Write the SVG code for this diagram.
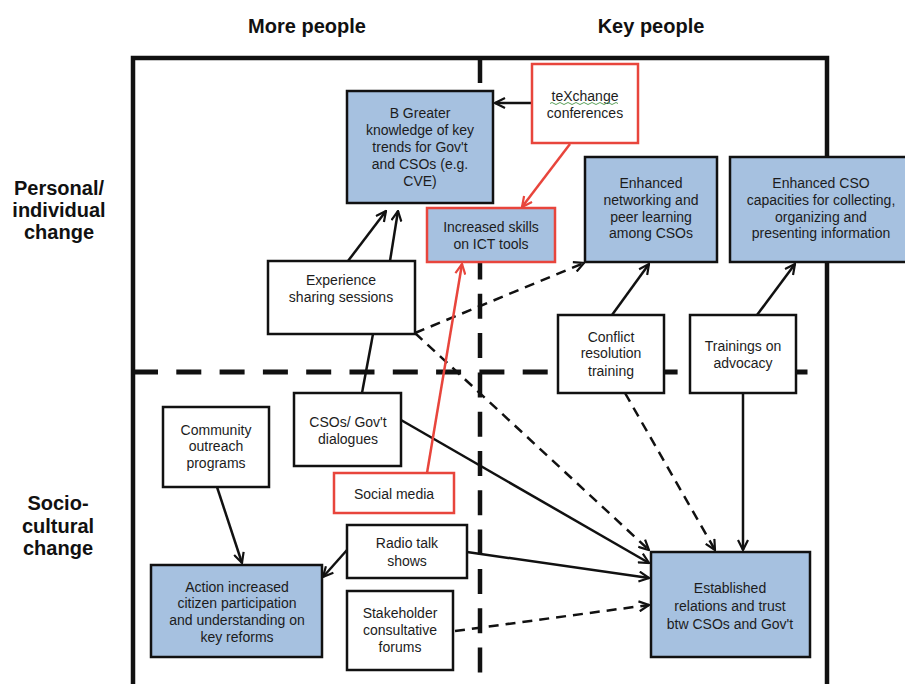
<svg xmlns="http://www.w3.org/2000/svg" width="905" height="684" viewBox="0 0 905 684">
<defs>
<style>
.t{font-family:"Liberation Sans",Arial,Helvetica,sans-serif;font-size:14px;fill:#1c1c1c;text-anchor:middle}
.h{font-family:"Liberation Sans",Arial,Helvetica,sans-serif;font-size:20px;font-weight:bold;fill:#111;text-anchor:middle}
.blue{fill:#a6c1e0;stroke:#111;stroke-width:2.5}
.white{fill:#fff;stroke:#111;stroke-width:2.5}
.bred{fill:#a6c1e0;stroke:#e8453c;stroke-width:2.5}
.wred{fill:#fff;stroke:#e8453c;stroke-width:2.5}
.c{fill:none;stroke:#111;stroke-width:2.5;marker-end:url(#ah)}
.cd{fill:none;stroke:#111;stroke-width:2.5;stroke-dasharray:10 7;marker-end:url(#ah)}
.cr{fill:none;stroke:#e8453c;stroke-width:2.5;marker-end:url(#ahr)}
</style>
<marker id="ah" viewBox="0 0 12 12" refX="11" refY="6" markerWidth="12" markerHeight="12" markerUnits="userSpaceOnUse" orient="auto">
<path d="M1,1 L11,6 L1,11" fill="none" stroke="#111" stroke-width="2.2"/>
</marker>
<marker id="ahr" viewBox="0 0 12 12" refX="11" refY="6" markerWidth="12" markerHeight="12" markerUnits="userSpaceOnUse" orient="auto">
<path d="M1,1 L11,6 L1,11" fill="none" stroke="#e8453c" stroke-width="2.2"/>
</marker>
</defs>
<rect width="905" height="684" fill="#fff"/>

<g id="labels">
<text class="h" x="307" y="33">More people</text>
<text class="h" x="651" y="33">Key people</text>
<text class="h" x="59" y="195">Personal/</text>
<text class="h" x="59" y="217">individual</text>
<text class="h" x="59" y="239">change</text>
<text class="h" x="58" y="510">Socio-</text>
<text class="h" x="58" y="533">cultural</text>
<text class="h" x="58" y="555">change</text>
</g>

<g id="frame">
<path d="M133,690 L133,58 L827,58 L827,690" fill="none" stroke="#111" stroke-width="4.5"/>
<line x1="480" y1="58" x2="480" y2="690" stroke="#111" stroke-width="4.5" stroke-dasharray="25 14.3"/>
<line x1="133" y1="372" x2="810" y2="372" stroke="#111" stroke-width="5" stroke-dasharray="25 18.3"/>
</g>

<g id="connectors">
<line class="c" x1="532" y1="103" x2="495" y2="103"/>
<line class="cr" x1="570" y1="144" x2="522" y2="207"/>
<line class="c" x1="348" y1="261" x2="386" y2="211"/>
<line class="c" x1="390" y1="261" x2="398" y2="211"/>
<line class="cd" x1="415" y1="333" x2="584" y2="263"/>
<line class="cd" x1="415" y1="333" x2="649" y2="550"/>
<line x1="373" y1="334" x2="362" y2="393" stroke="#111" stroke-width="2.5"/>
<line class="c" x1="401" y1="420" x2="649" y2="563"/>
<line class="cr" x1="427" y1="473" x2="462" y2="264"/>
<line class="c" x1="612" y1="315" x2="649" y2="264"/>
<line class="c" x1="757" y1="315" x2="795" y2="264"/>
<line class="cd" x1="625" y1="393" x2="715" y2="550"/>
<line class="c" x1="743" y1="393" x2="743" y2="550"/>
<line class="c" x1="347" y1="550" x2="323" y2="577"/>
<line class="c" x1="467" y1="552" x2="649" y2="578"/>
<line class="cd" x1="455" y1="631" x2="649" y2="605"/>
<line class="c" x1="217" y1="487" x2="242" y2="563"/>
</g>

<g id="n-greater">
<rect class="blue" x="347" y="91" width="146" height="112"/>
<text class="t" x="420" y="118">B Greater</text>
<text class="t" x="420" y="135">knowledge of key</text>
<text class="t" x="420" y="152">trends for Gov't</text>
<text class="t" x="420" y="169">and CSOs (e.g.</text>
<text class="t" x="420" y="186">CVE)</text>
</g>

<g id="n-texchange">
<rect class="wred" x="532" y="64" width="106" height="79"/>
<text class="t" x="585" y="101">teXchange</text>
<path d="M550,103.5 q2,-2 4,0 t4,0 t4,0 t4,0 t4,0 t4,0 t4,0 t4,0 t4,0 t4,0 t4,0 t4,0 t4,0 t4,0 t4,0 t4,0 t4,0" fill="none" stroke="#5aa05a" stroke-width="1"/>
<text class="t" x="585" y="118">conferences</text>
</g>

<g id="n-ict">
<rect class="bred" x="427" y="208" width="128" height="54"/>
<text class="t" x="491" y="232">Increased skills</text>
<text class="t" x="491" y="249">on ICT tools</text>
</g>

<g id="n-networking">
<rect class="blue" x="585" y="157" width="132" height="105"/>
<text class="t" x="651" y="188">Enhanced</text>
<text class="t" x="651" y="205">networking and</text>
<text class="t" x="651" y="222">peer learning</text>
<text class="t" x="651" y="238">among CSOs</text>
</g>

<g id="n-capacities">
<rect class="blue" x="730" y="157" width="185" height="105"/>
<text class="t" x="821" y="188">Enhanced CSO</text>
<text class="t" x="821" y="205">capacities for collecting,</text>
<text class="t" x="821" y="222">organizing and</text>
<text class="t" x="821" y="238">presenting information</text>
</g>

<g id="n-experience">
<rect class="white" x="268" y="261" width="147" height="73"/>
<text class="t" x="341" y="285">Experience</text>
<text class="t" x="341" y="302">sharing sessions</text>
</g>

<g id="n-conflict">
<rect class="white" x="558" y="315" width="106" height="78"/>
<text class="t" x="611" y="342">Conflict</text>
<text class="t" x="611" y="358">resolution</text>
<text class="t" x="611" y="376">training</text>
</g>

<g id="n-advocacy">
<rect class="white" x="690" y="315" width="106" height="78"/>
<text class="t" x="743" y="351">Trainings on</text>
<text class="t" x="743" y="368">advocacy</text>
</g>

<g id="n-dialogues">
<rect class="white" x="294" y="393" width="107" height="73"/>
<text class="t" x="348" y="427">CSOs/ Gov't</text>
<text class="t" x="348" y="444">dialogues</text>
</g>

<g id="n-outreach">
<rect class="white" x="163" y="407" width="106" height="80"/>
<text class="t" x="216" y="435">Community</text>
<text class="t" x="216" y="451">outreach</text>
<text class="t" x="216" y="468">programs</text>
</g>

<g id="n-social">
<rect class="wred" x="334" y="473" width="120" height="40"/>
<text class="t" x="394" y="499">Social media</text>
</g>

<g id="n-radio">
<rect class="white" x="347" y="525" width="120" height="53"/>
<text class="t" x="407" y="548">Radio talk</text>
<text class="t" x="407" y="566">shows</text>
</g>

<g id="n-action">
<rect class="blue" x="151" y="565" width="171" height="92"/>
<text class="t" x="237" y="592">Action increased</text>
<text class="t" x="237" y="608">citizen participation</text>
<text class="t" x="237" y="625">and understanding on</text>
<text class="t" x="237" y="642">key reforms</text>
</g>

<g id="n-stakeholder">
<rect class="white" x="347" y="591" width="106" height="79"/>
<text class="t" x="400" y="618">Stakeholder</text>
<text class="t" x="400" y="635">consultative</text>
<text class="t" x="400" y="652">forums</text>
</g>

<g id="n-established">
<rect class="blue" x="651" y="552" width="159" height="105"/>
<text class="t" x="730" y="593">Established</text>
<text class="t" x="730" y="611">relations and trust</text>
<text class="t" x="730" y="629">btw CSOs and Gov't</text>
</g>
</svg>
